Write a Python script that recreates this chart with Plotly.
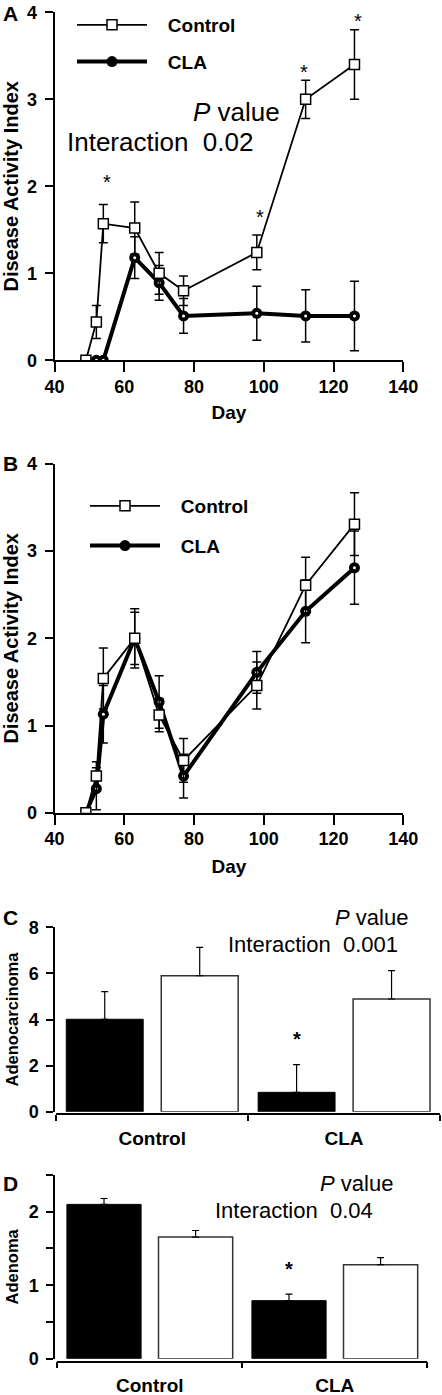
import plotly.graph_objects as go

W, H = 442, 1395
FONT = "Liberation Sans, Arial, sans-serif"

# ---------------- data ----------------
days = [49, 52, 54, 63, 70, 77, 98, 112, 126]

a_control = [0, 0.44, 1.57, 1.52, 1.00, 0.80, 1.24, 3.00, 3.40]
a_control_err = [0, 0.19, 0.22, 0.30, 0.24, 0.17, 0.20, 0.22, 0.40]
a_cla = [0, 0, 0, 1.18, 0.89, 0.51, 0.54, 0.51, 0.51]
a_cla_err = [0, 0, 0, 0.24, 0.20, 0.20, 0.31, 0.30, 0.40]
a_star_days = [55, 99, 111.5, 127]
a_star_y = [2.07, 1.67, 3.49, 4.07]

b_control = [0, 0.42, 1.54, 2.00, 1.12, 0.60, 1.46, 2.61, 3.31]
b_control_err = [0, 0.165, 0.35, 0.34, 0.19, 0.25, 0.27, 0.32, 0.36]
b_cla = [0, 0.275, 1.13, 2.00, 1.27, 0.42, 1.61, 2.31, 2.81]
b_cla_err = [0, 0.24, 0.33, 0.30, 0.30, 0.25, 0.24, 0.36, 0.42]

groups = ["Control", "CLA"]
c_black = [4.01, 0.84]
c_black_err = [1.20, 1.20]
c_white = [5.90, 4.89]
c_white_err = [1.23, 1.23]
c_star_y = 3.23

d_black = [2.10, 0.79]
d_black_err = [0.08, 0.09]
d_white = [1.655, 1.28]
d_white_err = [0.09, 0.095]
d_star_y = 1.25

# ---------------- helpers ----------------
def fx(p):
    return p / W

def fy(p):
    return 1 - p / H

BARGAP = 0.01
BARGROUPGAP = 0.19
A_YMAX = 4
NB = "\u00a0"

fig = go.Figure()


def line_panel(xa, ya, ctrl, ctrl_err, cla, cla_err, legend):
    err_style = dict(type="data", color="black", thickness=1.5, width=4.5)
    fig.add_trace(go.Scatter(
        x=days, y=cla, name=NB * 3 + "CLA", xaxis=xa, yaxis=ya, mode="lines+markers",
        line=dict(color="black", width=4),
        marker=dict(symbol="circle", size=11, color="black"),
        error_y=dict(array=cla_err, **err_style),
        legend=legend, legendgroup=legend + "cla", legendrank=2,
    ))
    fig.add_trace(go.Scatter(
        x=days, y=cla, xaxis=xa, yaxis=ya, mode="markers", showlegend=False,
        marker=dict(symbol="circle", size=3, color="white"), hoverinfo="skip",
        legend=legend,
    ))
    fig.add_trace(go.Scatter(
        x=days, y=ctrl, name=NB * 3 + "Control", xaxis=xa, yaxis=ya, mode="lines+markers",
        line=dict(color="black", width=1.8),
        marker=dict(symbol="square", size=10, color="white",
                    line=dict(color="black", width=1.5)),
        error_y=dict(array=ctrl_err, **err_style),
        legend=legend, legendgroup=legend + "ctrl", legendrank=1,
    ))


line_panel("x", "y", a_control, a_control_err, a_cla, a_cla_err, "legend")
line_panel("x2", "y2", b_control, b_control_err, b_cla, b_cla_err, "legend2")


def bar_panel(xa, ya, black, black_err, white, white_err):
    fig.add_trace(go.Bar(
        x=groups, y=black, xaxis=xa, yaxis=ya, showlegend=False,
        marker=dict(color="black", line=dict(color="black", width=1)),
        error_y=dict(type="data", array=black_err, arrayminus=[0] * len(black),
                     symmetric=False, color="black", thickness=1.2, width=3.5),
    ))
    fig.add_trace(go.Bar(
        x=groups, y=white, xaxis=xa, yaxis=ya, showlegend=False,
        marker=dict(color="white", line=dict(color="#333333", width=1.5)),
        error_y=dict(type="data", array=white_err, arrayminus=[0] * len(white),
                     symmetric=False, color="black", thickness=1.2, width=3.5),
    ))


bar_panel("x3", "y3", c_black, c_black_err, c_white, c_white_err)
bar_panel("x4", "y4", d_black, d_black_err, d_white, d_white_err)

# ---------------- axes ----------------
tickfont = dict(family=FONT, size=18, color="black", weight="bold")
titlefont = dict(family=FONT, size=19, color="black", weight="bold")
ytitlefont = dict(family=FONT, size=20, color="black", weight="bold")
base = dict(showline=True, linecolor="black", linewidth=2, ticks="outside",
            tickwidth=2, tickcolor="black", showgrid=False,
            zeroline=False, tickfont=tickfont, automargin=False)
xline = dict(base, ticklen=10, ticklabelstandoff=-1)
yline = dict(base, ticklen=8, ticklabelstandoff=4)

xA = [54.5, 403.3]
fig.update_layout(
    xaxis=dict(domain=[fx(xA[0]), fx(xA[1])], anchor="y", range=[40, 140],
               tickvals=[40, 60, 80, 100, 120, 140],
               title=dict(text="Day", font=titlefont, standoff=10), **xline),
    yaxis=dict(domain=[fy(360.3), fy(12.3)], anchor="x", range=[0, A_YMAX],
               tickvals=[0, 1, 2, 3, 4],
               title=dict(text="Disease Activity Index", font=ytitlefont, standoff=6),
               **yline),
    xaxis2=dict(domain=[fx(xA[0]), fx(xA[1])], anchor="y2", range=[40, 140],
                tickvals=[40, 60, 80, 100, 120, 140],
                title=dict(text="Day", font=titlefont, standoff=11), **xline),
    yaxis2=dict(domain=[fy(812.7), fy(464)], anchor="x2", range=[0, 4],
                tickvals=[0, 1, 2, 3, 4],
                title=dict(text="Disease Activity Index", font=ytitlefont, standoff=6),
                **yline),
)

bar_x = dict(base, ticklen=6, tickson="boundaries", linewidth=1.5, tickwidth=1.5,
             ticklabelstandoff=7,
             tickfont=dict(family=FONT, size=19, color="black", weight="bold"))
bar_y = dict(base, ticklen=7, linewidth=1.5, tickwidth=1.5, ticklabelstandoff=4)
ytitle_bar = dict(family=FONT, size=16.5, color="black", weight="bold")

xC = [56.3, 440.0]
xD = [57.3, 427.3]
fig.update_layout(
    xaxis3=dict(domain=[fx(xC[0]), fx(xC[1])], anchor="free", position=fy(1114),
                range=[-0.5, 1.5], type="category", **bar_x),
    yaxis3=dict(domain=[fy(1111.7), fy(927.3)], anchor="free", position=fx(54.0),
                range=[0, 8], tickvals=[0, 2, 4, 6, 8],
                title=dict(text="Adenocarcinoma", font=ytitle_bar, standoff=5),
                **bar_y),
    xaxis4=dict(domain=[fx(xD[0]), fx(xD[1])], anchor="free", position=fy(1361.7),
                range=[-0.5, 1.5], type="category", **bar_x),
    yaxis4=dict(domain=[fy(1358.7), fy(1175)], anchor="free", position=fx(54.0),
                range=[0, 2.5], tickvals=[0, 0.5, 1, 1.5, 2, 2.5],
                ticktext=["0", "", "1", "", "2", ""],
                title=dict(text="Adenoma", font=ytitle_bar, standoff=5),
                **bar_y),
)

# ---------------- annotations ----------------
ann = []
letter_font = dict(family=FONT, size=21, color="black")
ann.append(dict(text="<b>A</b>", xref="paper", yref="paper", x=fx(1), y=1,
                xanchor="left", yanchor="top", showarrow=False, font=letter_font))
for lab, ypx in [("B", 463), ("C", 917), ("D", 1183)]:
    ann.append(dict(text="<b>" + lab + "</b>", xref="paper", yref="paper",
                    x=fx(1), y=fy(ypx), xanchor="left", yanchor="middle",
                    showarrow=False, font=letter_font))

for d, v in zip(a_star_days, a_star_y):
    ann.append(dict(text="*", xref="x", yref="y domain", x=d, y=v / A_YMAX, yshift=-2,
                    showarrow=False, font=dict(family=FONT, size=20, color="black")))


def slot_shift(xd):
    cat_px = (xd[1] - xd[0]) / 2.0
    slot = cat_px * (1 - BARGAP) / 2.0
    return -slot / 2.0


ann.append(dict(text="*", xref="x3", yref="y3", x="CLA", y=c_star_y, yshift=-2,
                xshift=slot_shift(xC), showarrow=False,
                font=dict(family=FONT, size=20, color="black", weight="bold")))
ann.append(dict(text="*", xref="x4", yref="y4", x="CLA", y=d_star_y, yshift=-2,
                xshift=slot_shift(xD), showarrow=False,
                font=dict(family=FONT, size=20, color="black", weight="bold")))

big = dict(family=FONT, size=26, color="black")
mid = dict(family=FONT, size=22, color="black")
txt = [
    ("<i>P</i> value", 191, 112, "left", big),
    ("Interaction" + NB * 2 + "0.02", 65, 142, "left", big),
    ("<i>P</i> value", 410, 917, "right", mid),
    ("Interaction" + NB * 2 + "0.001", 400, 944, "right", mid),
    ("<i>P</i> value", 395, 1183, "right", mid),
    ("Interaction" + NB * 2 + "0.04", 375, 1210, "right", mid),
]
for t, xp, yp, xa, f in txt:
    ann.append(dict(text=t, xref="paper", yref="paper", x=fx(xp), y=fy(yp),
                    xanchor=xa, yanchor="middle", showarrow=False, font=f))

legfont = dict(family=FONT, size=19, color="black", weight="bold")
fig.update_layout(
    width=W, height=H, template="none",
    margin=dict(l=0, r=0, t=0, b=0, pad=0),
    paper_bgcolor="white", plot_bgcolor="white",
    barmode="group", bargap=BARGAP, bargroupgap=BARGROUPGAP,
    annotations=ann,
    legend=dict(x=fx(72), y=fy(6), xanchor="left", yanchor="top",
                font=legfont, itemwidth=70, tracegroupgap=9,
                bgcolor="rgba(0,0,0,0)", borderwidth=0, traceorder="grouped"),
    legend2=dict(x=fx(85), y=fy(487), xanchor="left", yanchor="top",
                 font=legfont, itemwidth=70, tracegroupgap=12,
                 bgcolor="rgba(0,0,0,0)", borderwidth=0, traceorder="grouped"),
    showlegend=True,
)

fig.write_html(
    "out.html",
    config={"displayModeBar": False},
    post_script="document.body.style.margin='0px';"
                "document.documentElement.style.margin='0px';"
                "document.body.style.overflow='hidden';",
)
